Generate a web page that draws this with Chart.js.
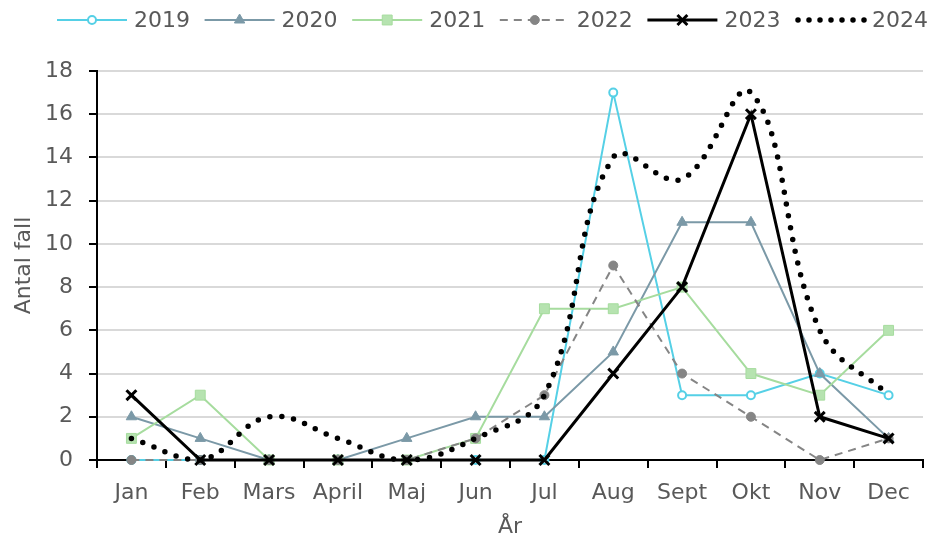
<!DOCTYPE html>
<html>
<head>
<meta charset="utf-8">
<script src="https://cdn.jsdelivr.net/npm/chart.js@4.4.1/dist/chart.umd.min.js"></script>
<style>
  html, body { margin: 0; padding: 0; background: #fff; }
  #wrap { width: 933px; height: 540px; }
</style>
</head>
<body>
<div id="wrap"><canvas id="c" width="933" height="540"></canvas></div>
<script>
// Monthly case counts per year
const months = ['Jan', 'Feb', 'Mars', 'April', 'Maj', 'Jun', 'Jul', 'Aug', 'Sept', 'Okt', 'Nov', 'Dec'];
const y2019 = [0, 0, 0, 0, 0, 0, 0, 17, 3, 3, 4, 3];
const y2020 = [2, 1, 0, 0, 1, 2, 2, 5, 11, 11, 4, 1];
const y2021 = [1, 3, 0, 0, 0, 1, 7, 7, 8, 4, 3, 6];
const y2022 = [0, 0, 0, 0, 0, 1, 3, 9, 4, 2, 0, 1];
const y2023 = [3, 0, 0, 0, 0, 0, 0, 4, 8, 16, 2, 1];
const y2024 = [1, 0, 2, 1, 0, 1, 3, 14, 13, 17, 6, 3];
const yTicks = [0, 2, 4, 6, 8, 10, 12, 14, 16, 18];

const FONT = "'DejaVu Sans', Verdana, sans-serif";
const TEXT = '#595959';

const series = [
  { label: '2019', data: y2019, color: '#55d0e6', width: 2, dash: [], point: 'circle', r: 4, fill: '#ffffff', pbw: 2 },
  { label: '2020', data: y2020, color: '#7b99a7', width: 2, dash: [], point: 'triangle', r: 6, fill: '#7b99a7', pbw: 1 },
  { label: '2021', data: y2021, color: '#a6dc9e', width: 2, dash: [], point: 'rect', r: 7, fill: '#b6e3b0', pbw: 1 },
  { label: '2022', data: y2022, color: '#858585', width: 2, dash: [8, 6], point: 'circle', r: 4.5, fill: '#858585', pbw: 1 },
  { label: '2023', data: y2023, color: '#000000', width: 3, dash: [], point: 'crossRot', r: 7, fill: '#000000', pbw: 3 },
  { label: '2024', data: y2024, color: '#000000', width: 5.5, dash: [0, 12], point: false, r: 0, fill: '#000000', pbw: 0, smooth: true }
];

const datasets = series.map((s, i) => ({
  label: s.label,
  data: s.data,
  borderColor: s.color,
  backgroundColor: s.color,
  borderWidth: s.width,
  borderDash: s.dash,
  borderCapStyle: s.smooth ? 'round' : 'butt',
  tension: s.smooth ? 0.4 : 0,
  pointStyle: s.point,
  pointRadius: s.r,
  pointHoverRadius: s.r,
  pointBackgroundColor: s.fill,
  pointBorderColor: s.color,
  pointBorderWidth: s.pbw,
  order: series.length - 1 - i,
  clip: 10
}));

// Legend row across the top: line sample with marker, then the year
const LEGEND = { x0: 57, step: 147.6, y: 20, sample: 70, gap: 7 };
const lineLegend = {
  id: 'lineLegend',
  afterDraw(chart) {
    const ctx = chart.ctx;
    ctx.save();
    series.forEach((s, i) => {
      const x = LEGEND.x0 + i * LEGEND.step;
      const y = LEGEND.y;
      const cx = x + LEGEND.sample / 2;
      ctx.strokeStyle = s.color;
      ctx.lineWidth = s.width;
      ctx.lineCap = s.smooth ? 'round' : 'butt';
      ctx.setLineDash(s.smooth ? [0, 11] : s.dash);
      ctx.beginPath();
      ctx.moveTo(s.smooth ? x + 3 : x, y);
      ctx.lineTo(x + LEGEND.sample, y);
      ctx.stroke();
      ctx.setLineDash([]);
      if (s.point) {
        ctx.fillStyle = s.fill;
        ctx.strokeStyle = s.color;
        ctx.lineWidth = s.pbw;
        Chart.helpers.drawPoint(ctx, {
          pointStyle: s.point, radius: s.r, rotation: 0, borderWidth: s.pbw
        }, cx, y);
      }
      ctx.fillStyle = TEXT;
      ctx.font = '22px ' + FONT;
      ctx.textAlign = 'left';
      ctx.textBaseline = 'middle';
      ctx.fillText(s.label, x + LEGEND.sample + LEGEND.gap, y + 1);
    });
    ctx.restore();
  }
};

new Chart(document.getElementById('c'), {
  type: 'line',
  data: { labels: months, datasets },
  plugins: [lineLegend],
  options: {
    responsive: false,
    animation: false,
    events: [],
    layout: { padding: { left: 8, right: 4, top: 71, bottom: 0 } },
    plugins: {
      tooltip: { enabled: false },
      legend: { display: false }
    },
    scales: {
      x: {
        offset: true,
        afterFit: (s) => { s.height = 80; },
        border: { color: '#000', width: 2 },
        grid: { display: true, offset: true, drawOnChartArea: false, drawTicks: true, tickLength: 8, tickColor: '#000', lineWidth: 2 },
        ticks: { color: TEXT, font: { family: FONT, size: 22 }, padding: 12, maxRotation: 0, autoSkip: false },
        title: { display: true, text: 'År', color: TEXT, font: { family: FONT, size: 22 }, padding: { top: 0, bottom: 0 } }
      },
      y: {
        min: 0,
        max: 18,
        afterFit: (s) => { s.width = 89; },
        afterBuildTicks: (scale) => { scale.ticks = yTicks.map(v => ({ value: v })); },
        border: { color: '#000', width: 2 },
        grid: { color: '#d9d9d9', lineWidth: 2, tickColor: '#000', tickLength: 8, drawTicks: true },
        ticks: { color: TEXT, font: { family: FONT, size: 22 }, padding: 16 },
        title: { display: true, text: 'Antal fall', color: TEXT, font: { family: FONT, size: 22 }, padding: { top: 3, bottom: 0 } }
      }
    }
  }
});
</script>
</body>
</html>
